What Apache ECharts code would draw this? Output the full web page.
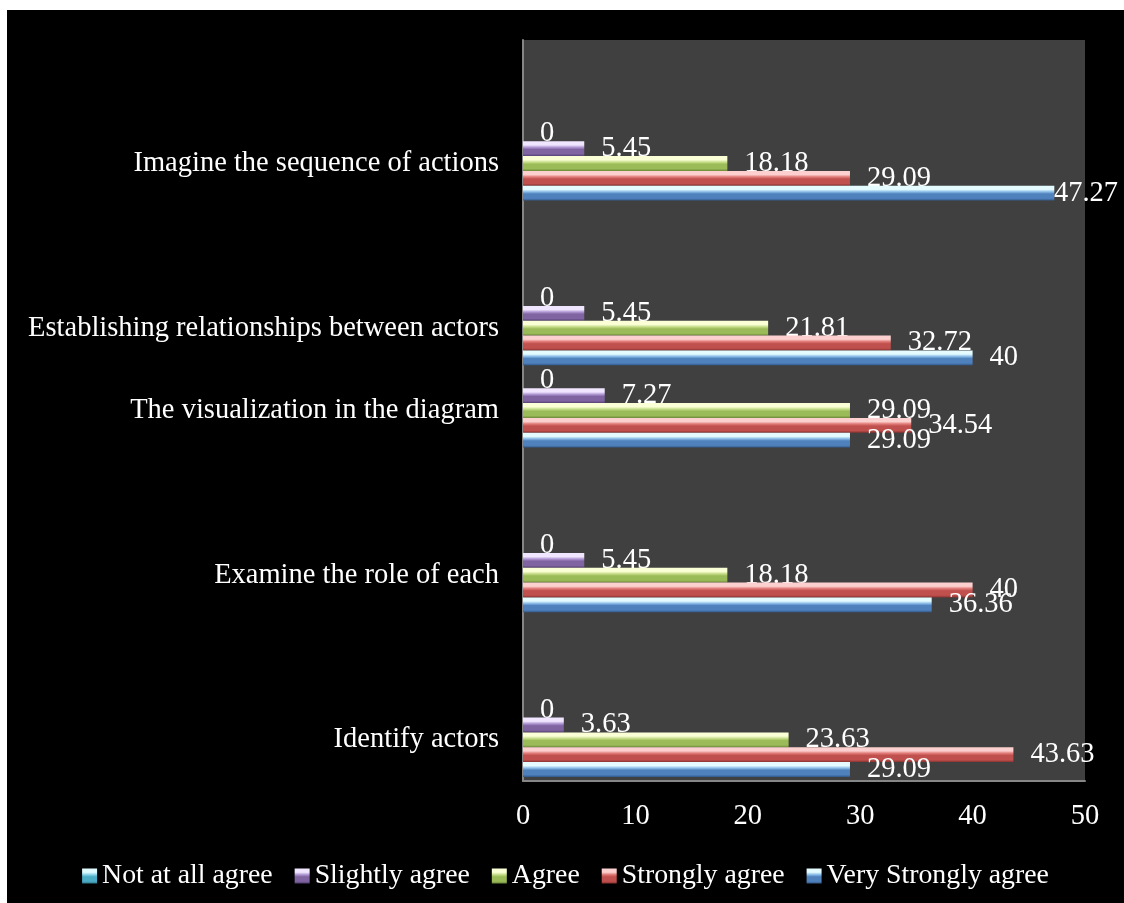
<!DOCTYPE html>
<html>
<head>
<meta charset="utf-8">
<script src="https://cdn.jsdelivr.net/npm/echarts@6/dist/echarts.min.js"></script>
<style>
  html, body { margin: 0; padding: 0; background: #ffffff; }
  #chart { position: absolute; left: 7px; top: 10px; width: 1117px; height: 893px; }
</style>
</head>
<body>
<div id="chart"></div>
<script>
// Category slots, bottom to top (empty strings are blank rows of the original chart)
const categories = ['Identify actors', '', 'Examine the role of each', '', 'The visualization in the diagram', 'Establishing relationships between actors', '', 'Imagine the sequence of actions', ''];
const notAtAllAgree      = [0,     null, 0,     null, 0,     0,     null, 0,     null];
const slightlyAgree      = [3.63,  null, 5.45,  null, 7.27,  5.45,  null, 5.45,  null];
const agree              = [23.63, null, 18.18, null, 29.09, 21.81, null, 18.18, null];
const stronglyAgree      = [43.63, null, 40,    null, 34.54, 32.72, null, 29.09, null];
const veryStronglyAgree  = [29.09, null, 36.36, null, 29.09, 40,    null, 47.27, null];
const seriesNames = ['Not at all agree', 'Slightly agree', 'Agree', 'Strongly agree', 'Very Strongly agree'];
const xTicks = { min: 0, max: 50, interval: 10 };

const FONT = 'Liberation Serif';
const FS = 28.5;
function bevel(light, mid, base, dark) {
  return new echarts.graphic.LinearGradient(0, 0, 0, 1, [
    { offset: 0, color: light },
    { offset: 0.25, color: light },
    { offset: 0.4, color: mid },
    { offset: 0.55, color: base },
    { offset: 0.85, color: base },
    { offset: 1, color: dark }
  ]);
}
const styles = {
  'Very Strongly agree': bevel('#e4fbff', '#8fc0ea', '#4f81bd', '#335a8c'),
  'Strongly agree':      bevel('#fbd0cf', '#e27d7a', '#c0504d', '#8a3331'),
  'Agree':               bevel('#fbffd6', '#c8df8c', '#9bbb59', '#6c8a38'),
  'Slightly agree':      bevel('#f1e6ff', '#b39bd6', '#8064a2', '#553f74'),
  'Not at all agree':    bevel('#dffbff', '#8fd6e8', '#4bacc6', '#2f7a8f')
};

const chart = echarts.init(document.getElementById('chart'));
function makeSeries(name, data, z) {
  return {
    name: name,
    type: 'bar',
    data: data,
    z: z,
    barGap: '0%',
    barCategoryGap: '10%',
    itemStyle: { color: styles[name] },
    label: {
      show: true,
      position: 'right',
      distance: 17,
      offset: [0, 4],
      color: '#ffffff',
      fontFamily: FONT,
      fontSize: FS
    }
  };
}
const option = {
  backgroundColor: '#000000',
  animation: false,
  grid: { left: 516, right: 39, top: 30, bottom: 122, containLabel: false,
          show: true, backgroundColor: '#404040', borderWidth: 0 },
  legend: {
    data: seriesNames,
    top: 847,
    left: 'center',
    itemWidth: 15,
    itemHeight: 15,
    itemGap: 22,
    icon: 'rect',
    textStyle: { color: '#ffffff', fontFamily: FONT, fontSize: 27.8 }
  },
  xAxis: {
    type: 'value',
    min: xTicks.min, max: xTicks.max, interval: xTicks.interval,
    splitLine: { show: false },
    axisTick: { show: false },
    axisLine: { show: true, lineStyle: { color: '#868686', width: 2 } },
    axisLabel: { color: '#ffffff', fontFamily: FONT, fontSize: FS, margin: 21 }
  },
  yAxis: {
    type: 'category',
    data: categories,
    axisTick: { show: false },
    axisLine: { show: true, lineStyle: { color: '#868686', width: 2 } },
    axisLabel: { color: '#ffffff', fontFamily: FONT, fontSize: FS, margin: 24 }
  },
  labelLayout: function (p) {
    const W = chart.getWidth() - 6;
    const r = p.labelRect;
    if (r && r.x + r.width > W) {
      return { dx: W - (r.x + r.width) };
    }
    return {};
  },
  series: [
    makeSeries('Not at all agree', notAtAllAgree, 3),
    makeSeries('Slightly agree', slightlyAgree, 4),
    makeSeries('Agree', agree, 5),
    makeSeries('Strongly agree', stronglyAgree, 6),
    makeSeries('Very Strongly agree', veryStronglyAgree, 7)
  ]
};
chart.setOption(option);
</script>
</body>
</html>
